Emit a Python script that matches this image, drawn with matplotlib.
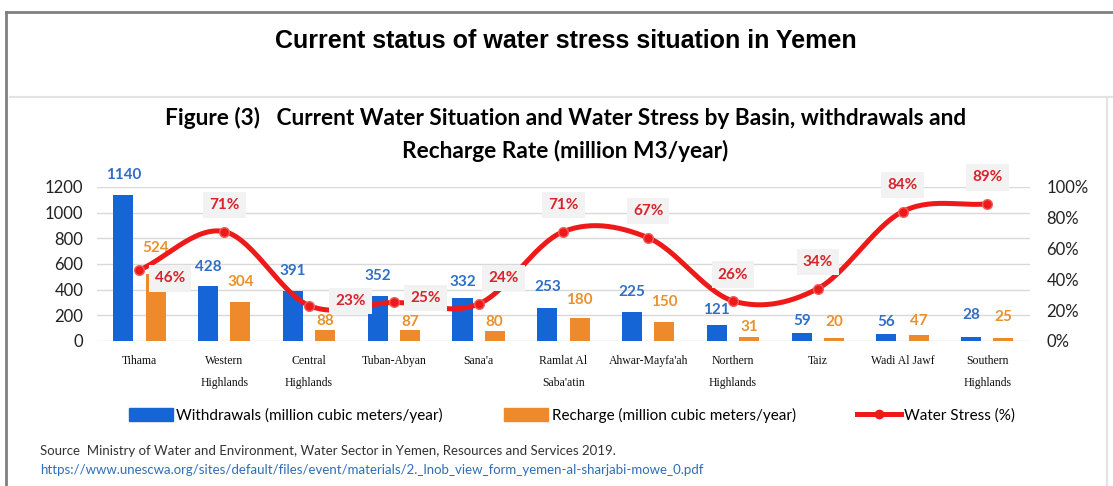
import numpy as np
import matplotlib
matplotlib.use("Agg")
import matplotlib.pyplot as plt
from matplotlib.lines import Line2D
from matplotlib.patches import Patch

basins = ["Tihama", "Western\nHighlands", "Central\nHighlands", "Tuban-Abyan", "Sana'a",
          "Ramlat Al\nSaba'atin", "Ahwar-Mayfa'ah", "Northern\nHighlands", "Taiz",
          "Wadi Al Jawf", "Southern\nHighlands"]
withdrawals = [1140, 428, 391, 352, 332, 253, 225, 121, 59, 56, 28]
recharge = [524, 304, 88, 87, 80, 180, 150, 31, 20, 47, 25]
stress = [46, 71, 23, 25, 24, 71, 67, 26, 34, 84, 89]
left_ticks = [0, 200, 400, 600, 800, 1000, 1200]
right_ticks = [0, 20, 40, 60, 80, 100]

BLUE = "#1565d6"
ORANGE = "#ee8a2c"
BLUE_TXT = "#2f6fc6"
ORANGE_TXT = "#e8922f"
RED = "#ee1a1a"
RED_TXT = "#d8232b"
sans = "Lato"


def catmull_rom(xs, ys, n=30):
    # smoothed line like the spreadsheet "smoothed line" option
    px = np.r_[2 * xs[0] - xs[1], xs, 2 * xs[-1] - xs[-2]]
    py = np.r_[2 * ys[0] - ys[1], ys, 2 * ys[-1] - ys[-2]]
    ox, oy = [], []
    for i in range(1, len(px) - 2):
        t = np.linspace(0, 1, n, endpoint=False)
        for p, out in ((px, ox), (py, oy)):
            p0, p1, p2, p3 = p[i - 1], p[i], p[i + 1], p[i + 2]
            out.extend(0.5 * (2 * p1 + (-p0 + p2) * t + (2 * p0 - 5 * p1 + 4 * p2 - p3) * t ** 2
                              + (-p0 + 3 * p1 - 3 * p2 + p3) * t ** 3))
    ox.append(xs[-1])
    oy.append(ys[-1])
    return np.array(ox), np.array(oy)


fig = plt.figure(figsize=(11.13, 4.86), dpi=100)

# frame lines of the screenshot
fig.add_artist(Line2D([0.005, 1.0], [0.975, 0.975], color="#808080", lw=2))
fig.add_artist(Line2D([0.005, 0.005], [0.0, 0.975], color="#808080", lw=2))
fig.add_artist(Line2D([0.009, 1.0], [0.80, 0.80], color="#e3e3e3", lw=1.5))
fig.add_artist(Line2D([0.995, 0.995], [0.0, 0.80], color="#e3e3e3", lw=1.5))

fig.text(0.508, 0.916, "Current status of water stress situation in Yemen", ha="center", va="center",
         fontsize=18, fontweight="bold", family="Liberation Sans")
fig.text(0.508, 0.758, "Figure (3)   Current Water Situation and Water Stress by Basin, withdrawals and",
         ha="center", va="center", fontsize=16.3, fontweight="bold", family=sans)
fig.text(0.508, 0.690, "Recharge Rate (million M3/year)",
         ha="center", va="center", fontsize=16.3, fontweight="bold", family=sans)

ax = fig.add_axes([0.0872, 0.2984, 0.838, 0.317])
x = np.arange(len(basins))
w = 0.236
ax.bar(x - 0.19, withdrawals, w, color=BLUE, zorder=2)
ax.bar(x + 0.19, recharge, w, color=ORANGE, zorder=2)

# label gaps above bars in pixels (small bars were nudged down in the original)
blue_gap = [20, 19, 20, 20, 16, 21, 20, 15, 12, 12, 22]
orange_gap = [26, 20, 9, 8, 9, 18, 20, 10, 16, 14, 21]
for i in range(len(basins)):
    ax.annotate(str(withdrawals[i]), (x[i] - 0.19, withdrawals[i]), xytext=(0, blue_gap[i] * 0.72),
                textcoords="offset points", ha="center", va="center", color=BLUE_TXT,
                fontsize=11, fontweight="bold", family=sans, annotation_clip=False, zorder=3)
    ax.annotate(str(recharge[i]), (x[i] + 0.19, recharge[i]), xytext=(0, orange_gap[i] * 0.72),
                textcoords="offset points", ha="center", va="center", color=ORANGE_TXT,
                fontsize=11, fontweight="bold", family=sans, annotation_clip=False, zorder=3)

ax.set_xlim(-0.5, len(basins) - 0.5)
ax.set_ylim(0, 1200)
ax.set_yticks(left_ticks)
ax.set_yticklabels([str(v) for v in left_ticks], fontsize=12, family=sans, color="#222222")
ax.set_xticks(x)
ax.set_xticklabels(basins, fontsize=8.5, family="Liberation Serif", color="#111111", linespacing=2.1)
ax.tick_params(length=0, axis="x", pad=10)
ax.tick_params(length=0, axis="y", pad=10)
ax.grid(axis="y", color="#d9d9d9", lw=1, zorder=0)
for s in ax.spines.values():
    s.set_visible(False)
ax.set_axisbelow(True)

ax2 = ax.twinx()
ax2.set_ylim(0, 100)
ax2.set_yticks(right_ticks)
ax2.set_yticklabels([f"{v}%" for v in right_ticks], fontsize=12, family=sans, color="#222222")
ax2.tick_params(length=0, pad=12)
for s in ax2.spines.values():
    s.set_visible(False)
sx, sy = catmull_rom(x.astype(float), np.array(stress, dtype=float))
ax2.plot(sx, sy, color=RED, lw=3.6, solid_capstyle="round", zorder=4)
ax2.plot(x, stress, "o", color=RED, ms=7, mec="#f06060", mew=1, zorder=5)

offsets = [(22, -6), (0, 19), (30, 3), (23, 3), (18, 19), (0, 19), (0, 19), (0, 19), (0, 19), (0, 19), (0, 19)]
for i, v in enumerate(stress):
    ax2.annotate(f"{v}%", (x[i], v), xytext=offsets[i], textcoords="offset points", ha="center",
                 va="center", color=RED_TXT, fontsize=11, fontweight="bold", family=sans,
                 bbox=dict(boxstyle="square,pad=0.4", fc="#f2f2f2", ec="none"),
                 annotation_clip=False, zorder=6)

handles = [Patch(color=BLUE), Patch(color=ORANGE),
           Line2D([], [], color=RED, lw=3.6, marker="o", ms=6)]
labels = ["Withdrawals (million cubic meters/year)", "Recharge (million cubic meters/year)",
          "Water Stress (%)"]
fig.legend(handles, labels, loc="center", bbox_to_anchor=(0.514, 0.145), ncol=3, frameon=False,
           prop={"family": sans, "size": 11}, handlelength=2.9, handleheight=0.9,
           handletextpad=0.2, columnspacing=4.0)

fig.text(0.036, 0.073, "Source  Ministry of Water and Environment, Water Sector in Yemen, Resources and Services 2019.",
         fontsize=9.5, family=sans, color="#333333", va="center")
fig.text(0.036, 0.032, "https://www.unescwa.org/sites/default/files/event/materials/2._lnob_view_form_yemen-al-sharjabi-mowe_0.pdf",
         fontsize=9.5, family=sans, color="#2f6db5", va="center")

fig.savefig("out.png", dpi=100)
